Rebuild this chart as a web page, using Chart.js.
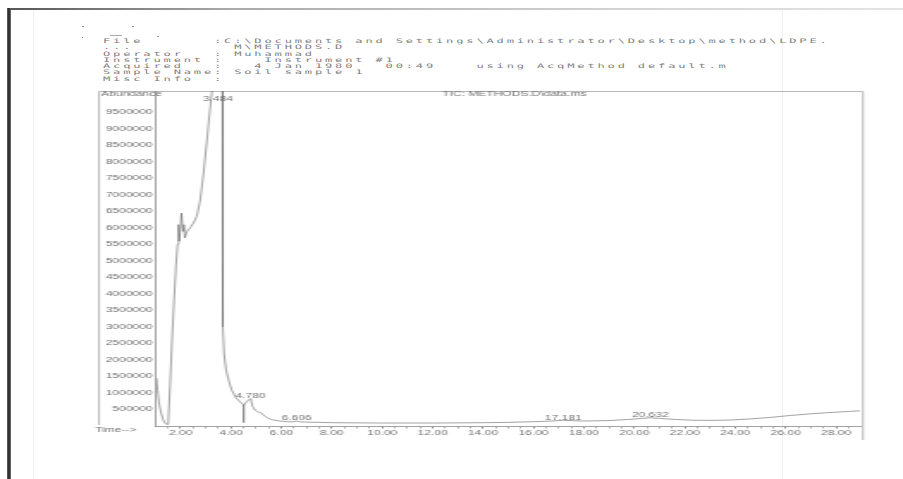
<!DOCTYPE html>
<html>
<head>
<meta charset="utf-8">
<script src="https://cdn.jsdelivr.net/npm/chart.js@4"></script>
<style>
  html, body { margin: 0; padding: 0; background: #fff; }
  #page { position: relative; width: 903px; height: 479px; overflow: hidden; background: #fff; }
  /* the printout is read with a wide, squat aspect: stretch the drawing horizontally */
  #wrap { position: absolute; left: 0; top: 0; width: 525px; height: 479px;
          transform: scaleX(1.72); transform-origin: 0 0; }
  #hdr { position: absolute; left: 103px; top: 38px; margin: 0;
         font-family: "DejaVu Sans Mono", "Liberation Mono", monospace;
         font-size: 6.2px; line-height: 6.3px; letter-spacing: 1.45px; color: #808080;
         transform: scaleX(1.95); transform-origin: 0 0; white-space: pre; }
  .edge { position: absolute; }
</style>
</head>
<body>
<div id="page">
  <div class="edge" style="left:7px;top:8px;width:896px;height:2px;background:linear-gradient(to right,#555,#aaa 25%,#d4d4d4 70%,#e4e4e4);"></div>
  <div class="edge" style="left:7px;top:8px;width:4px;height:471px;background:linear-gradient(to right,#6a6a6a,#1e1e1e 50%,#7a7a7a);"></div>
  <div class="edge" style="left:33px;top:10px;width:1px;height:469px;background:#f0f0f0;"></div>
  <div class="edge" style="left:82px;top:26px;width:2px;height:1px;background:#999;"></div>
  <div class="edge" style="left:132px;top:26px;width:2px;height:1px;background:#999;"></div>
  <div class="edge" style="left:110px;top:35px;width:12px;height:1px;background:#aaa;"></div>
  <div class="edge" style="left:157px;top:36px;width:2px;height:1px;background:#999;"></div>
  <div class="edge" style="left:82px;top:37px;width:1px;height:1px;background:#999;"></div>
  <pre id="hdr">File       :C:\Documents and Settings\Administrator\Desktop\method\LDPE.
...          M\METHODS.D
Operator   : Muhammad
Instrument :    Instrument #1
Acquired   :   4 Jan 1980   00:49    using AcqMethod default.m
Sample Name: Soil sample 1
Misc Info  :</pre>
  <div id="wrap"><canvas id="c"></canvas></div>
  <div class="edge" style="left:782px;top:10px;width:1px;height:469px;background:rgba(0,0,0,0.06);"></div>
</div>
<script>
// Total ion chromatogram, retention time (min) vs abundance
const times = [1.045, 1.085, 1.144, 1.224, 1.303, 1.382, 1.462, 1.513, 1.581, 1.660,
  1.739, 1.819, 1.878, 1.918, 1.950, 2.037, 2.088, 2.128, 2.168, 2.255,
  2.374, 2.513, 2.640, 2.771, 2.902, 3.037, 3.140, 3.235, 3.366, 3.484,
  3.663, 3.675, 3.723, 3.802, 3.901, 4.020, 4.199, 4.377, 4.500, 4.502,
  4.504, 4.635, 4.780, 4.853, 4.952, 5.091, 5.190, 5.290, 5.429, 5.627,
  5.944, 6.261, 6.45, 6.606, 6.75, 6.936, 7.5, 8.0, 9.0, 10.0,
  11.0, 12.0, 13.0, 14.0, 15.0, 16.0, 16.7, 17.181, 17.6, 18.0,
  19.0, 19.8, 20.3, 20.632, 21.0, 21.6, 22.3, 23.0, 23.8, 24.6,
  25.4, 26.2, 27.0, 27.8, 28.5, 28.95];
const abundance = [1450000, 1100000, 700000, 400000, 200000, 80000, 50000, 150000, 1200000, 2600000,
  3800000, 4900000, 5500000, 6100000, 5600000, 6450000, 5900000, 6100000, 5700000, 5900000,
  6000000, 6150000, 6350000, 6810000, 7600000, 8600000, 9400000, 10070000, 11800000, 15500000,
  11000000, 3000000, 2200000, 1700000, 1400000, 1100000, 850000, 720000, 640000, 100000,
  630000, 750000, 830000, 600000, 480000, 420000, 400000, 330000, 250000, 190000,
  150000, 130000, 125000, 150000, 125000, 120000, 110000, 100000, 95000, 90000,
  90000, 90000, 95000, 100000, 110000, 130000, 150000, 175000, 160000, 150000,
  165000, 200000, 230000, 250000, 230000, 200000, 175000, 170000, 180000, 215000,
  260000, 320000, 370000, 410000, 440000, 460000];

// integrated peaks (retention times) that get annotated
const peakTimes = [3.484, 4.780, 6.606, 17.181, 20.632];

// axis ticks
const abundanceTicks = [500000, 1000000, 1500000, 2000000, 2500000, 3000000, 3500000,
  4000000, 4500000, 5000000, 5500000, 6000000, 6500000, 7000000, 7500000, 8000000,
  8500000, 9000000, 9500000];
const timeTicks = [2, 4, 6, 8, 10, 12, 14, 16, 18, 20, 22, 24, 26, 28];

const S = 1.72;                 // horizontal stretch applied to the canvas wrapper
const FONT = { family: 'Liberation Sans, Arial, sans-serif', size: 7 };
const INK = '#727272';

const minorTicks = [];
for (let v = 1.5; v <= 28.5; v += 0.5) minorTicks.push(v);
const majorSet = new Set(timeTicks);

const points = times.map((t, i) => ({ x: t, y: abundance[i] }));
const valueAt = t => abundance[times.indexOf(t)];

const decor = {
  id: 'decor',
  beforeDraw(chart) {
    const ctx = chart.ctx;
    ctx.save();
    ctx.strokeStyle = '#b8b8b8';
    ctx.lineWidth = 1;
    ctx.beginPath();
    const L = 99 / S, R = 863 / S;
    ctx.moveTo(L, 425); ctx.lineTo(L, 91.5); ctx.lineTo(R, 91.5); ctx.lineTo(R, 440);
    ctx.stroke();
    ctx.restore();
  },
  afterDraw(chart) {
    const ctx = chart.ctx, xs = chart.scales.x, ys = chart.scales.y, area = chart.chartArea;
    ctx.save();
    ctx.fillStyle = INK;
    ctx.font = `${FONT.size}px ${FONT.family}`;
    ctx.textBaseline = 'middle';
    ctx.textAlign = 'left';
    ctx.fillText('Abundance', 101 / S, 94.5);
    ctx.fillText('Time-->', 95 / S, 430);
    ctx.fillText('TIC: METHODS.D\\data.ms', 442 / S, 94.5);
    ctx.textAlign = 'center';
    peakTimes.forEach(t => {
      const px = xs.getPixelForValue(t);
      const py = Math.max(ys.getPixelForValue(valueAt(t)), area.top + 11);
      ctx.fillText(t.toFixed(3), px, py - 2.5);
    });
    ctx.restore();
  }
};

new Chart(document.getElementById('c'), {
  type: 'line',
  data: {
    datasets: [{
      data: points,
      borderColor: '#686868',
      borderWidth: 0.62,
      pointRadius: 0,
      tension: 0,
      fill: false
    }]
  },
  options: {
    responsive: true,
    maintainAspectRatio: false,
    animation: false,
    events: [],
    layout: { padding: { left: 0, right: 25, top: 91, bottom: 41 } },
    plugins: { legend: { display: false }, tooltip: { enabled: false } },
    scales: {
      x: {
        type: 'linear',
        min: 1.025,
        max: 28.95,
        afterBuildTicks: axis => { axis.ticks = minorTicks.map(v => ({ value: v })); },
        afterFit: axis => { axis.height = 12; },
        ticks: {
          autoSkip: false, maxRotation: 0, padding: 0.5,
          color: INK, font: FONT,
          callback: v => majorSet.has(v) ? v.toFixed(2) : ''
        },
        grid: { drawOnChartArea: false, drawTicks: true, tickLength: 2.5,
                tickColor: ctx => majorSet.has(ctx.tick && ctx.tick.value) ? '#8a8a8a' : '#b0b0b0' },
        border: { display: true, color: '#8a8a8a', width: 0.8 }
      },
      y: {
        min: 0,
        max: 10150000,
        afterBuildTicks: axis => { axis.ticks = abundanceTicks.map(v => ({ value: v })); },
        afterFit: axis => { axis.width = 156 / S; },
        ticks: { autoSkip: false, padding: 2, color: INK, font: FONT,
                 callback: v => String(v) },
        grid: { drawOnChartArea: false, drawTicks: false },
        border: { display: true, color: '#8a8a8a', width: 0.8 }
      }
    }
  },
  plugins: [decor]
});
</script>
</body>
</html>
